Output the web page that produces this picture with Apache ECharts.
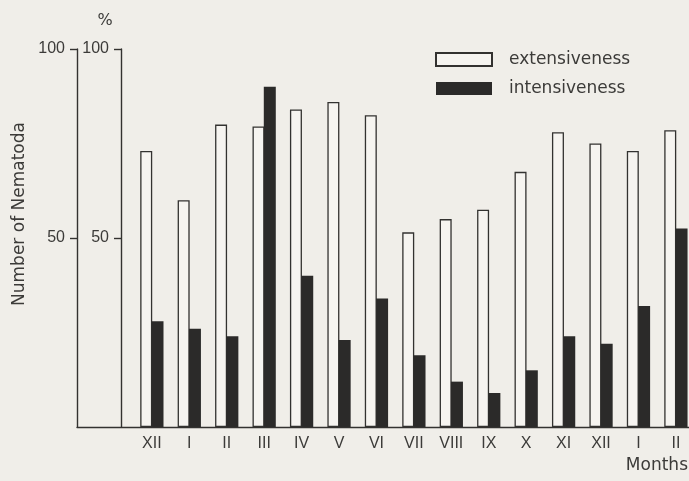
<!DOCTYPE html>
<html>
<head>
<meta charset="utf-8">
<script src="https://cdn.jsdelivr.net/npm/echarts@6/dist/echarts.min.js"></script>
<style>
  html, body { margin: 0; padding: 0; background: #f0eee9; }
  #chart { width: 689px; height: 481px; }
</style>
</head>
<body>
<div id="chart"></div>
<script>
// Sampling months (December through the following February)
const months = ['XII', 'I', 'II', 'III', 'IV', 'V', 'VI', 'VII', 'VIII', 'IX', 'X', 'XI', 'XII', 'I', 'II'];
// Extensiveness of infection, %
const extensiveness = [73, 60, 80, 79.5, 84, 86, 82.5, 51.5, 55, 57.5, 67.5, 78, 75, 73, 78.5];
// Intensiveness of infection (number of Nematoda)
const intensiveness = [28, 26, 24, 90, 40, 23, 34, 19, 12, 9, 15, 24, 22, 32, 52.5];
// Left-hand scale ticks
const yTicks = [50, 100];

const ink = '#333230';
const paper = '#f0eee9';
const labelFont = 'Liberation Sans';
const textFont = 'DejaVu Sans';

const idx = months.map((_, i) => i);
const toPairs = arr => arr.map((v, i) => [i, v]);

const chart = echarts.init(document.getElementById('chart'), null, { renderer: 'canvas' });

const yAxisBase = (offset) => ({
  type: 'value',
  position: 'left',
  offset: offset,
  min: 0,
  max: 100,
  interval: 50,
  splitLine: { show: false },
  axisLine: { show: true, onZero: false, lineStyle: { color: ink, width: 1.4 } },
  axisTick: { show: true, length: 7, customValues: yTicks, lineStyle: { color: ink, width: 1.4 } },
  axisLabel: {
    customValues: yTicks,
    margin: 12,
    color: '#3c3b39',
    fontFamily: labelFont,
    fontSize: 16
  }
});

chart.setOption({
  backgroundColor: paper,
  animation: false,
  grid: { left: 77, right: 0, top: 49, bottom: 54 },
  xAxis: {
    type: 'value',
    min: -2,
    max: 14.35,
    interval: 1,
    splitLine: { show: false },
    axisLine: { show: true, onZero: false, lineStyle: { color: ink, width: 1.4 } },
    axisTick: { show: false },
    axisLabel: {
      customValues: idx,
      formatter: v => months[v] ?? '',
      margin: 9,
      color: '#3c3b39',
      fontFamily: labelFont,
      fontSize: 16
    }
  },
  yAxis: [yAxisBase(0), yAxisBase(-44)],
  legend: {
    orient: 'vertical',
    left: 435,
    top: 51,
    itemWidth: 56,
    itemHeight: 13,
    itemGap: 12,
    padding: 0,
    textStyle: {
      color: '#3c3b39',
      fontFamily: textFont,
      fontSize: 17,
      padding: [0, 0, 0, 12]
    },
    data: [
      { name: 'extensiveness', icon: 'rect' },
      { name: 'intensiveness', icon: 'rect' }
    ]
  },
  graphic: [
    {
      type: 'text',
      x: 105,
      y: 21,
      style: { text: '%', font: '16px "DejaVu Sans"', fill: '#3c3b39', align: 'center', verticalAlign: 'middle' }
    },
    {
      type: 'text',
      x: 20,
      y: 214,
      rotation: Math.PI / 2,
      style: { text: 'Number of Nematoda', font: '17px "DejaVu Sans"', fill: '#3c3b39', align: 'center', verticalAlign: 'middle' }
    },
    {
      type: 'text',
      right: 1,
      top: 457,
      style: { text: 'Months', font: '17px "DejaVu Sans"', fill: '#3c3b39' }
    }
  ],
  series: [
    {
      name: 'extensiveness',
      type: 'bar',
      yAxisIndex: 0,
      barWidth: 12,
      barGap: '-6%',
      data: toPairs(extensiveness),
      itemStyle: { color: '#f6f4f0', borderColor: ink, borderWidth: 1.3 }
    },
    {
      name: 'intensiveness',
      type: 'bar',
      yAxisIndex: 0,
      barWidth: 12,
      barGap: '-6%',
      data: toPairs(intensiveness),
      itemStyle: { color: '#2b2a29' }
    }
  ]
});
</script>
</body>
</html>
